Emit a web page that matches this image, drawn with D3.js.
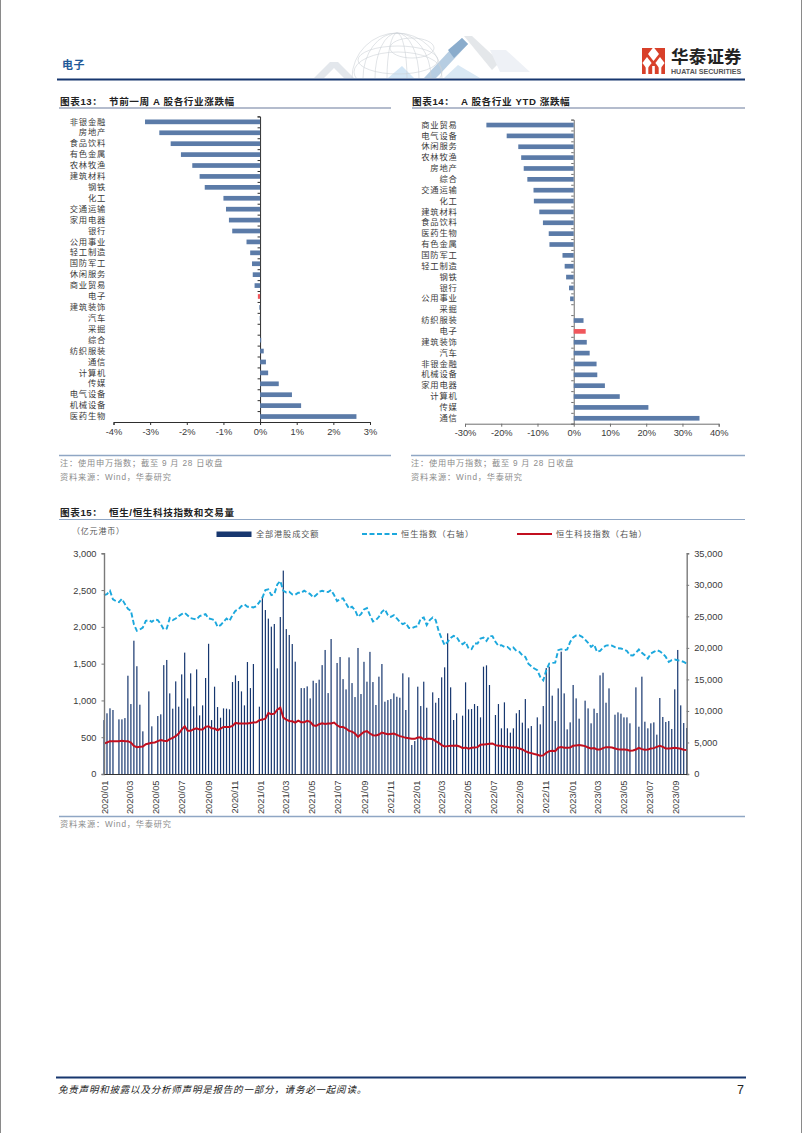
<!DOCTYPE html>
<html lang="zh"><head><meta charset="utf-8">
<script src="https://cdn.jsdelivr.net/npm/d3@7/dist/d3.min.js"></script>
<style>
html,body{margin:0;padding:0;background:#fff}
svg{display:block}
text{font-family:"Liberation Sans","Noto Sans CJK SC",sans-serif}
</style></head><body><svg id="c" width="802" height="1133"></svg>
<script>
const cats13=["非银金融","房地产","食品饮料","有色金属","农林牧渔","建筑材料","钢铁","化工","交通运输","家用电器","银行","公用事业","轻工制造","国防军工","休闲服务","商业贸易","电子","建筑装饰","汽车","采掘","综合","纺织服装","通信","计算机","传媒","电气设备","机械设备","医药生物"];
const vals13=[-3.14,-2.75,-2.44,-2.16,-1.85,-1.65,-1.51,-1.0,-0.93,-0.85,-0.76,-0.37,-0.27,-0.22,-0.2,-0.15,-0.06,-0.02,-0.01,0,0.03,0.1,0.16,0.22,0.51,0.87,1.12,2.63];
const cats14=["商业贸易","电气设备","休闲服务","农林牧渔","房地产","综合","交通运输","化工","建筑材料","食品饮料","医药生物","有色金属","国防军工","轻工制造","钢铁","银行","公用事业","采掘","纺织服装","电子","建筑装饰","汽车","非银金融","机械设备","家用电器","计算机","传媒","通信"];
const vals14=[-24.1,-18.5,-15.3,-14.5,-13.8,-12.8,-11.1,-11.0,-9.5,-8.5,-6.9,-6.7,-3.1,-2.5,-2.1,-1.3,-1.0,0,2.7,3.3,3.6,4.4,6.3,6.5,8.6,12.7,20.6,34.7];
const ticks13=[-4,-3,-2,-1,0,1,2,3];
const ticks14=[-30,-20,-10,0,10,20,30,40];
const turnover=[733,825,893,870,null,743,743,760,1336,951,
1812,1465,942,580,null,1123,648,null,788,811,
1480,1550,1096,888,1259,915,1354,1650,1028,1368,
920,1422,797,933,1305,1770,733,1187,910,765,
892,888,879,1250,1341,1264,1123,933,1522,1168,
1495,null,915,2410,2229,2112,2003,2039,1436,2134,
2765,1970,1890,1767,1527,null,1168,1168,1191,1028,
1268,1236,1282,1480,1686,1100,1835,null,1509,1590,
1290,1150,1585,1236,1046,1713,1087,1525,1255,1660,
1250,938,1323,1495,983,1005,1019,1096,1050,
1037,1368,870,1314,394,448,1187,924,1255,901,
null,1110,969,1033,1314,1450,1912,1178,734,825,
null,793,1246,879,883,951,924,770,1459,1477,
1210,null,802,951,621,974,621,562,621,825,
870,698,1019,621,652,null,770,675,924,1440,
1459,1065,720,1164,1663,1096,607,702,1210,1028,
752,null,997,892,689,888,829,1341,1377,969,
1164,null,806,838,820,770,770,689,null,1178,
643,1323,711,621,689,702,535,1033,775,707,
720,612,1151,1686,933,693,625];
const hsi=[28375,28534,29064,27686,27421,27262,27792,26944,26202,25884,
23764,22704,22916,23234,24294,24400,24135,24506,24400,23764,
22916,23075,24718,24400,24665,25036,25354,25566,25142,24718,
24612,24506,25036,25195,25354,24665,24559,24400,23340,23605,
24135,24665,24294,25195,25884,26096,26626,26891,26520,26520,
26414,26626,27262,27951,29170,29276,28375,28534,30071,30601,
29064,28799,28905,28481,28428,28746,28746,29064,28799,28534,
28004,28375,28905,29064,28905,28852,29170,28375,27421,27739,
27845,27050,26255,26520,25990,24930,25354,26096,26308,25195,
24188,24400,24930,25725,26096,25195,24930,25195,24665,24135,
23760,23980,23180,23130,23340,23450,24670,24820,23610,24400,
24820,24400,22650,21490,20430,20960,21590,21910,21750,20960,
20580,20960,19900,19790,20690,20690,21490,21640,21110,21860,
21860,20960,20320,20430,20160,20160,19740,20050,19520,19370,
18840,18570,17510,17090,16720,16450,15390,14860,16450,17510,
17620,17670,19630,19790,19630,19740,20960,21640,21960,22020,
21750,21330,20800,20160,20530,19370,19520,20050,20370,20430,
20370,20110,19950,19900,19740,19520,18840,18790,19210,19740,
19210,18840,18310,19100,19370,19630,19470,19100,18570,17780,
18040,18150,18040,17940,17780,17510];
const hstech=[4840,5000,5210,5210,5210,5210,5260,5210,5210,5000,
4470,4260,4310,4370,4730,4840,4940,5000,5210,5370,
5260,5210,5520,5730,6000,6420,7050,7570,6840,6840,
7100,7260,7050,7050,7470,7570,7260,7210,6940,7210,
7470,7470,7470,7630,8100,8000,8000,8000,8000,8100,
8150,8210,8520,8630,8780,9680,9470,9570,10200,10520,
8940,8630,8420,8360,8150,8470,8210,8210,8420,8260,
7730,7630,7890,8050,7940,8000,8000,8150,7730,7470,
7470,7210,6840,6730,6420,5890,6310,6680,6790,6420,
6150,6100,6260,6580,6420,6310,6360,6420,6210,
6000,5890,5730,5680,5580,5580,5790,5840,5470,5580,
5580,5520,5210,4940,4580,4370,4420,4470,4470,4520,
4370,4100,4210,4000,4160,4210,4260,4630,4680,4730,
4790,4840,4580,4470,4470,4370,4310,4210,4210,4210,
4050,3890,3630,3420,3310,3160,3050,2890,2950,3370,
3630,3680,3630,4160,4260,4160,4160,4210,4470,4520,
4580,4520,4420,4210,4050,4100,3890,3890,4100,4260,
4260,4210,4050,3940,3890,3890,3840,3680,3730,3890,
4160,3940,3840,3890,4050,4100,4310,4470,4310,4050,
4050,4100,4160,4100,4000,3840,3790];
const monthTicks=["2020/01","2020/03","2020/05","2020/07","2020/09","2020/11","2021/01","2021/03","2021/05","2021/07","2021/09","2021/11","2022/01","2022/03","2022/05","2022/07","2022/09","2022/11","2023/01","2023/03","2023/05","2023/07","2023/09"];
const leftTicks=[0,500,1000,1500,2000,2500,3000];
const rightTicks=[0,5000,10000,15000,20000,25000,30000,35000];

const svg=d3.select("#c");
const NAVY="#17376f",GREY="#8c8c8c",INK="#3a3a3a",BLUE="#5b7ba8",RED="#f0575c",RULE="#8fa6c4";

function txt(x,y,s,o={}){return svg.append("text").attr("x",x).attr("y",y).attr("font-size",o.size||8.3)
 .attr("fill",o.fill||INK).attr("font-weight",o.weight||null).attr("font-style",o.style||null)
 .attr("letter-spacing",o.ls==null?0.6:o.ls).attr("text-anchor",o.anchor||"start").text(s)}
function rule(x1,x2,y,c,w){svg.append("line").attr("x1",x1).attr("x2",x2).attr("y1",y).attr("y2",y).attr("stroke",c).attr("stroke-width",w)}

/* page edge */
svg.append("rect").attr("x",0.5).attr("y",-2).attr("width",801).attr("height",1140).attr("fill","none").attr("stroke","#8a8a8a");

/* watermark */
const wm=svg.append("g");
svg.append("clipPath").attr("id","wmc").append("rect").attr("x",290).attr("y",28).attr("width",260).attr("height",50);
wm.attr("clip-path","url(#wmc)");
wm.append("polygon").attr("points","314,78 330,62 338,62 354,78 344,78 334,68 324,78").attr("fill","#e3e7ec");
wm.append("polygon").attr("points","388,78 402,66 414,78").attr("fill","#d3e6f5");
wm.append("polygon").attr("points","444,78 458,65 480,78").attr("fill","#d9e8f4");
wm.append("polygon").attr("points","424,78 452,48 462,38 468,44 440,74 436,78").attr("fill","#b6cde2");
wm.append("polygon").attr("points","448,50 462,38 468,44 454,58").attr("fill","#8aaccc");
wm.append("polygon").attr("points","464,36 472,36 500,62 492,70").attr("fill","#e4e7ea");
wm.append("polygon").attr("points","490,50 506,50 530,72 500,72").attr("fill","#eef1f6");
const gl=wm.append("g").attr("fill","none").attr("stroke","#cdd2d7").attr("stroke-width",0.6);
gl.append("circle").attr("cx",397).attr("cy",78).attr("r",45);
[34,22,10].forEach(r=>gl.append("ellipse").attr("cx",397).attr("cy",78).attr("rx",r).attr("ry",45));
[[412,48,22,10],[398,60,40,14],[398,72,44,20]].forEach(e=>gl.append("ellipse").attr("cx",e[0]).attr("cy",e[1]).attr("rx",e[2]).attr("ry",e[3]));

/* header */
txt(62,69,"电子",{size:11,fill:"#1f5a99",weight:700,ls:0.5});
rule(57,745,79.5,NAVY,2);
const logo=svg.append("g");
logo.append("rect").attr("x",642).attr("y",48).attr("width",23).attr("height",26).attr("fill","#d8402a");
[[653.5,51,5.5,7],[647,60,4.6,6],[660,60,4.6,6]].forEach(d=>logo.append("polygon")
 .attr("points",[[d[0],d[1]-d[3]+3],[d[0]+d[2],d[1]+3],[d[0],d[1]+d[3]+3],[d[0]-d[2],d[1]+3]]).attr("fill","#fff"));
[647,653.5,660].forEach(x=>logo.append("rect").attr("x",x-1.3).attr("y",66).attr("width",2.6).attr("height",8).attr("fill","#fff"));
txt(671,63,"华泰证券",{size:17.5,fill:"#222",weight:700,ls:0.2});
txt(671,73.5,"HUATAI SECURITIES",{size:7.1,weight:700,fill:"#555",ls:0});

/* section titles */
txt(60,104.5,"图表13：  节前一周 A 股各行业涨跌幅",{size:9.6,weight:700,fill:"#222",ls:0.6}).style("white-space","pre");
rule(59,391,108,"#9ba6bd",1.4);
txt(412,104.5,"图表14：  A 股各行业 YTD 涨跌幅",{size:9.6,weight:700,fill:"#222",ls:0.6}).style("white-space","pre");
rule(412,745,108,"#9ba6bd",1.4);

function barPanel(cfg){
 const x=d3.scaleLinear().domain(cfg.domain).range(cfg.xr);
 const y=d3.scaleBand().domain(cfg.cats).range(cfg.yr).paddingInner(0.57).paddingOuter(0.285);
 const idx=d3.scaleLinear().domain([0,cfg.cats.length]).range(cfg.yr);
 const ax=svg.append("g").attr("transform",`translate(0,${cfg.yr[1]})`)
  .call(d3.axisBottom(x).tickValues(cfg.ticks).tickSize(3).tickPadding(3).tickFormat(d=>d+"%"));
 ax.selectAll("text").attr("font-size",9.3).attr("fill",INK).attr("font-family","Liberation Sans");
 ax.select(".domain").attr("stroke",cfg.axc).attr("stroke-width",1);
 ax.selectAll("line").attr("stroke",cfg.axc);
 const ay=svg.append("g").attr("transform",`translate(${x(0)},0)`)
  .call(d3.axisLeft(idx).tickValues(d3.range(cfg.cats.length+1)).tickSize(2.5).tickFormat(""));
 ay.select(".domain").attr("stroke",cfg.axc).attr("stroke-width",1);
 ay.selectAll("line").attr("stroke",cfg.axc);
 svg.append("g").selectAll("rect").data(cfg.vals).join("rect")
  .attr("x",d=>Math.min(x(d),x(0))).attr("width",d=>Math.abs(x(d)-x(0)))
  .attr("y",(d,i)=>y(cfg.cats[i])).attr("height",y.bandwidth())
  .attr("fill",(d,i)=>cfg.cats[i]==="电子"?RED:BLUE);
 const lab=svg.append("g").attr("transform",`translate(${cfg.labx},0)`)
  .call(d3.axisLeft(y).tickSize(0).tickPadding(0));
 lab.select(".domain").remove();
 lab.selectAll("text").attr("font-size",8.3).attr("fill",INK).attr("letter-spacing",0.75)
  .attr("font-family","Noto Sans CJK SC");
}
barPanel({cats:cats13,vals:vals13,domain:[-4,3],xr:[113.5,370],yr:[116.4,422],ticks:ticks13,labx:106,axc:"#2e2e2e"});
barPanel({cats:cats14,vals:vals14,domain:[-30,40],xr:[465,718.7],yr:[119.6,423.7],ticks:ticks14,labx:457.5,axc:"#6f6f6f"});

rule(59,391,455.5,RULE,1.4);rule(411,745,455.5,RULE,1.4);
txt(60,466,"注：使用申万指数；截至 9 月 28 日收盘",{size:8.2,fill:GREY,ls:0.8});
txt(60,479.5,"资料来源：Wind，华泰研究",{size:8.2,fill:GREY,ls:0.8});
txt(411,466,"注：使用申万指数；截至 9 月 28 日收盘",{size:8.2,fill:GREY,ls:0.8});
txt(411,479.5,"资料来源：Wind，华泰研究",{size:8.2,fill:GREY,ls:0.8});

/* combo chart */
txt(60,515.5,"图表15：  恒生/恒生科技指数和交易量",{size:9.6,weight:700,fill:"#222",ls:0.6}).style("white-space","pre");
rule(59,745,519.5,RULE,1.2);
txt(72,534,"（亿元港币）",{size:8,fill:"#555",ls:0.8});

const parseT=d3.timeParse("%Y/%m/%d");
const start=parseT("2020/01/01");
const weeks=turnover.map((d,i)=>d3.timeDay.offset(start,7*i));
const x=d3.scaleTime().domain([start,weeks[weeks.length-1]]).range([104,686.7]);
const yL=d3.scaleLinear().domain([0,3000]).range([774,553.3]);
const yR=d3.scaleLinear().domain([0,35000]).range([774,553.3]);

svg.append("g").selectAll("rect").data(turnover.map((v,i)=>({v,t:weeks[i]})).filter(d=>d.v!=null)).join("rect")
 .attr("x",d=>x(d.t)-0.6).attr("width",1.2).attr("y",d=>yL(d.v)).attr("height",d=>yL(0)-yL(d.v)).attr("fill",NAVY);
const ln=d3.line().x((d,i)=>x(weeks[i])).y(d=>yR(d));
svg.append("path").datum(hsi).attr("d",ln).attr("fill","none").attr("stroke","#1ca8dd").attr("stroke-width",1.9).attr("stroke-dasharray","5,2.5");
svg.append("path").datum(hstech).attr("d",ln).attr("fill","none").attr("stroke","#c20f1f").attr("stroke-width",2);

const axL=svg.append("g").attr("transform","translate(104,0)")
 .call(d3.axisLeft(yL).tickValues(leftTicks).tickSize(2.5).tickPadding(5).tickFormat(d3.format(",")));
const axR=svg.append("g").attr("transform","translate(686.7,0)")
 .call(d3.axisRight(yR).tickValues(rightTicks).tickSize(2.5).tickPadding(5).tickFormat(d3.format(",")));
[axL,axR].forEach(a=>{a.selectAll("text").attr("font-size",9.3).attr("fill",INK).attr("font-family","Liberation Sans");
 a.select(".domain").attr("stroke","#7a7a7a").attr("stroke-width",1.4);a.selectAll("line").attr("stroke","#7a7a7a");});
const axB=svg.append("g").attr("transform","translate(0,774)")
 .call(d3.axisBottom(x).tickValues(monthTicks.map(s=>parseT(s+"/01"))).tickSize(0).tickFormat(d3.timeFormat("%Y/%m")));
axB.select(".domain").attr("stroke","#333").attr("stroke-width",1);
axB.selectAll("text").attr("font-size",9.3).attr("fill",INK).attr("font-family","Liberation Sans")
 .attr("text-anchor","end").attr("transform","rotate(-90)").attr("x",-6.5).attr("y",0).attr("dy","0.34em");

/* legend */
svg.append("rect").attr("x",216.5).attr("y",531.5).attr("width",35).attr("height",5.5).attr("fill",NAVY);
txt(256,537,"全部港股成交额",{size:8.2,fill:"#555",ls:0.85});
svg.append("line").attr("x1",362).attr("x2",398).attr("y1",534).attr("y2",534).attr("stroke","#1ca8dd").attr("stroke-width",1.9).attr("stroke-dasharray","5,2.5");
txt(401,537,"恒生指数（右轴）",{size:8.2,fill:"#555",ls:0.95});
svg.append("line").attr("x1",517).attr("x2",552).attr("y1",534).attr("y2",534).attr("stroke","#c20f1f").attr("stroke-width",2);
txt(556,537,"恒生科技指数（右轴）",{size:8.2,fill:"#555",ls:0.95});

rule(59,745,816.5,RULE,1.4);
txt(60,827,"资料来源：Wind，华泰研究",{size:8.2,fill:GREY,ls:0.8});

/* footer */
rule(56,746,1077.5,NAVY,2);
txt(58,1093,"免责声明和披露以及分析师声明是报告的一部分，请务必一起阅读。",{size:9.5,fill:"#222",style:"italic",ls:0.8});
txt(744,1094,"7",{size:12.5,fill:"#222",anchor:"end",ls:0});
</script></body></html>
